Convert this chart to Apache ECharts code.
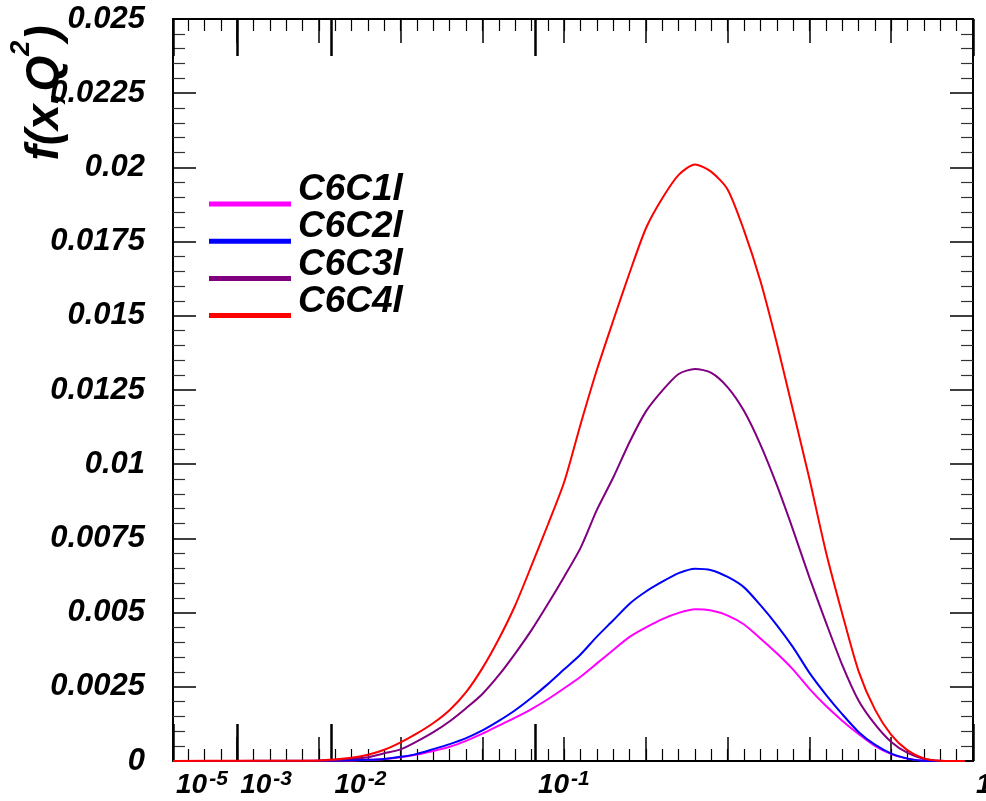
<!DOCTYPE html>
<html>
<head>
<meta charset="utf-8">
<title>f(x,Q2)</title>
<script src="https://cdn.jsdelivr.net/npm/echarts@6.0.0/dist/echarts.min.js"></script>
<style>
  html, body { margin: 0; padding: 0; background: #fff; }
  #chart { width: 986px; height: 801px; }
</style>
</head>
<body>
<div id="chart"></div>
<script>
// Momentum fraction x, sampled on the cube-root scale used by the horizontal axis (x^(1/3)).
const xCbrt = [0.021544, 0.10, 0.15, 0.20, 0.24, 0.26, 0.28, 0.30, 0.32, 0.34, 0.36, 0.38, 0.40,
  0.42, 0.44, 0.46, 0.48, 0.50, 0.52, 0.54, 0.56, 0.58, 0.60, 0.62, 0.64, 0.66, 0.68, 0.70,
  0.72, 0.74, 0.76, 0.78, 0.80, 0.82, 0.84, 0.86, 0.88, 0.90, 0.92, 0.94, 0.96, 0.99];

const seriesNames = ['C6C1l', 'C6C2l', 'C6C3l', 'C6C4l'];
const seriesColors = ['#ff00ff', '#0000ff', '#800080', '#ff0000'];

const c6c1l = [0, 0, 0, 0.00001, 0.00002, 0.00004, 0.00007, 0.00013, 0.00022, 0.00034, 0.00048, 0.00068, 0.00092,
  0.00119, 0.00146, 0.00175, 0.00208, 0.00245, 0.00284, 0.00329, 0.00374, 0.00418, 0.0045, 0.00478, 0.00499, 0.00511, 0.00507, 0.0049,
  0.0046, 0.00413, 0.00363, 0.00308, 0.00243, 0.00186, 0.00136, 0.00091, 0.00051, 0.00023, 0.00008, 0.00001, 0, 0];

const c6c2l = [0, 0, 0, 0.00001, 0.00003, 0.00004, 0.00007, 0.00014, 0.00024, 0.0004, 0.00057, 0.00077, 0.00103,
  0.00135, 0.00171, 0.00213, 0.00259, 0.00309, 0.00359, 0.00419, 0.00474, 0.0053, 0.00571, 0.00604, 0.00633, 0.00648, 0.00643, 0.0062,
  0.00585, 0.00525, 0.00458, 0.00383, 0.00297, 0.00224, 0.00158, 0.00098, 0.00055, 0.00025, 0.00008, 0.00001, 0, 0];

const c6c3l = [0, 0, 0.00001, 0.00001, 0.00008, 0.00013, 0.00026, 0.00039, 0.00066, 0.00097, 0.00134, 0.00178, 0.00226,
  0.00289, 0.00362, 0.00441, 0.00529, 0.00621, 0.00718, 0.00846, 0.00955, 0.01075, 0.01178, 0.01248, 0.01304, 0.01321, 0.01308, 0.01259,
  0.01179, 0.01066, 0.0093, 0.00778, 0.00618, 0.00468, 0.00324, 0.00204, 0.00124, 0.00064, 0.00027, 0.00007, 0.00001, 0];

const c6c4l = [0, 0.00001, 0.00001, 0.00002, 0.00011, 0.00021, 0.00038, 0.00063, 0.00093, 0.00128, 0.00172, 0.00232, 0.00313,
  0.00411, 0.00524, 0.00658, 0.00796, 0.0094, 0.01134, 0.01318, 0.01484, 0.01645, 0.01795, 0.01896, 0.01975, 0.0201, 0.01985, 0.01925,
  0.01787, 0.01617, 0.01408, 0.0118, 0.0095, 0.00706, 0.00497, 0.00303, 0.00174, 0.00088, 0.00036, 0.00009, 0.00001, 0];

const seriesValues = [c6c1l, c6c2l, c6c3l, c6c4l];

// Labelled decades on the x axis (powers of ten) and the y tick labels.
const xTickExponents = [-5, -3, -2, -1, 0];
const yTickLabels = ['0', '0.0025', '0.005', '0.0075', '0.01', '0.0125', '0.015', '0.0175', '0.02', '0.0225', '0.025'];

const FONT = '"Liberation Sans", Arial, Helvetica, sans-serif';
const xMin = Math.cbrt(1e-5);
const xMax = 1;

// Tick positions on the cube-root axis
const xMajor = xTickExponents.map(e => Math.cbrt(Math.pow(10, e)));
const xMedium = [];
for (let k = 1; k <= 9; k++) xMedium.push(k / 10);
const xMinor = [];
for (let k = 2; k <= 49; k++) xMinor.push(k / 50);

function xAxisLayer(position, ticks, len, width, withLine) {
  return {
    type: 'value',
    position: position,
    min: xMin,
    max: xMax,
    axisLine: { show: withLine, onZero: false, lineStyle: { color: '#000', width: 2 } },
    axisTick: { show: true, inside: true, length: len, customValues: ticks, lineStyle: { color: '#000', width: width } },
    axisLabel: { show: false },
    splitLine: { show: false }
  };
}

function yAxisLayer(position, withLabel) {
  return {
    type: 'value',
    position: position,
    min: 0,
    max: 0.025,
    interval: 0.0025,
    axisLine: { show: true, onZero: false, lineStyle: { color: '#000', width: 2 } },
    axisTick: { show: true, inside: true, length: 23, lineStyle: { color: '#000', width: 1.5 } },
    minorTick: { show: true, splitNumber: 5, length: 12, lineStyle: { color: '#333', width: 1.2 } },
    axisLabel: withLabel ? {
      show: true,
      margin: 28,
      formatter: (v, i) => yTickLabels[i],
      fontFamily: FONT,
      fontWeight: 'bold',
      fontStyle: 'italic',
      fontSize: 31,
      color: '#000'
    } : { show: false },
    splitLine: { show: false },
    minorSplitLine: { show: false }
  };
}

const chart = echarts.init(document.getElementById('chart'), null, { renderer: 'canvas' });

const legendGraphics = [];
seriesNames.forEach((name, i) => {
  legendGraphics.push({
    id: 'legend-line-' + i,
    type: 'line',
    shape: { x1: 209, y1: 204 + i * 37.2, x2: 291, y2: 204 + i * 37.2 },
    style: { stroke: seriesColors[i], lineWidth: 5 }
  });
  legendGraphics.push({
    id: 'legend-text-' + i,
    type: 'text',
    x: 298,
    y: 190 + i * 37.2,
    style: {
      text: name,
      fill: '#000',
      font: 'italic bold 37px ' + FONT,
      align: 'left',
      verticalAlign: 'middle'
    }
  });
});

const option = {
  backgroundColor: '#fff',
  animation: false,
  grid: { left: 173, right: 13, top: 19, bottom: 40, containLabel: false, outerBoundsMode: 'none' },
  xAxis: [
    xAxisLayer('bottom', xMajor, 37, 2.5, true),
    xAxisLayer('bottom', xMedium, 24, 1.5, false),
    xAxisLayer('bottom', xMinor, 12, 1.2, false),
    xAxisLayer('top', xMajor, 37, 2.5, true),
    xAxisLayer('top', xMedium, 24, 1.5, false),
    xAxisLayer('top', xMinor, 12, 1.2, false)
  ],
  yAxis: [
    yAxisLayer('left', true),
    yAxisLayer('right', false)
  ],
  series: seriesNames.map((name, i) => ({
    name: name,
    type: 'line',
    xAxisIndex: 0,
    yAxisIndex: 0,
    data: xCbrt.map((t, k) => [t, seriesValues[i][k]]),
    showSymbol: false,
    smooth: 0.25,
    lineStyle: { color: seriesColors[i], width: 2 },
    itemStyle: { color: seriesColors[i] },
    z: 3 + i
  })),
  graphic: [
    {
      id: 'y-title',
      type: 'text',
      x: 31,
      y: 93,
      rotation: Math.PI / 2,
      style: {
        text: '{m|f(x,Q}{s|2}{m|)}',
        align: 'center',
        verticalAlign: 'middle',
        rich: {
          m: { font: 'italic bold 46px ' + FONT, fill: '#000', lineHeight: 46, padding: [28, 0, 0, 0] },
          s: { font: 'italic bold 27px ' + FONT, fill: '#000', lineHeight: 27, verticalAlign: 'top' }
        }
      }
    }
  ].concat(legendGraphics)
};

chart.setOption(option);

// Decade labels (10 with a raised exponent) placed at the major ticks through the x axis scale.
const axisY = chart.convertToPixel({ yAxisIndex: 0 }, 0);
const decadeLabels = xTickExponents.map((e, i) => {
  const px = chart.convertToPixel({ xAxisIndex: 0 }, xMajor[i]);
  return {
    id: 'x-label-' + i,
    type: 'text',
    x: px + 3,
    y: axisY + 8,
    style: {
      text: e === 0 ? '{b|1}' : '{b|10}{s|' + e + '}',
      align: 'left',
      verticalAlign: 'top',
      rich: {
        b: { font: 'italic bold 28px ' + FONT, fill: '#000', lineHeight: 28, padding: [5, 0, 0, 0] },
        s: { font: 'italic bold 21px ' + FONT, fill: '#000', lineHeight: 21, verticalAlign: 'top', padding: [0, 0, 0, 2] }
      }
    }
  };
});
chart.setOption({ graphic: decadeLabels });
</script>
</body>
</html>
